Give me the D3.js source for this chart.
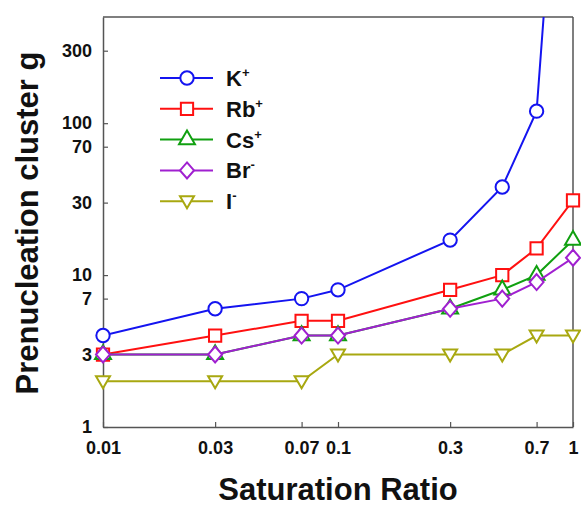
<!DOCTYPE html>
<html><head><meta charset="utf-8">
<script src="https://cdn.jsdelivr.net/npm/d3@7"></script>
<style>
body{margin:0;background:#fff;}
text{font-family:"Liberation Sans",Arial,sans-serif;font-weight:bold;fill:#111;}
</style></head>
<body><svg id="chart" width="581" height="507"></svg>
<script>
const ratios = [0.01, 0.03, 0.07, 0.1, 0.3, 0.5, 0.7, 1];
const kValues  = [4, 6, 7, 8, 17, 38, 120, 200000];
const rbValues = [3, 4, 5, 5, 8, 10, 15, 31];
const csValues = [3, 3, 4, 4, 6, 8, 10, 17];
const brValues = [3, 3, 4, 4, 6, 7, 9, 13];
const iValues  = [2, 2, 2, 3, 3, 3, 4, 4];
const seriesNames = ["K", "Rb", "Cs", "Br", "I"];
const seriesSup = ["+", "+", "+", "-", "-"];
const seriesColors = ["#1414f0", "#ff1010", "#10a010", "#a020d0", "#a8a810"];
const seriesSymbols = ["circle", "square", "triangle", "diamond", "triangleDown"];
const xTicks = [0.01, 0.03, 0.07, 0.1, 0.3, 0.7, 1];
const yTicks = [1, 3, 7, 10, 30, 70, 100, 300];
const allValues = [kValues, rbValues, csValues, brValues, iValues];

const svg = d3.select("#chart");
const m = {l:103, r:8, t:17, b:80};
const W = 581, H = 507;
const x = d3.scaleLog().domain([0.01, 1]).range([m.l, W - m.r]);
const y = d3.scaleLog().domain([1, 500]).range([H - m.b, m.t]);

svg.append("defs").append("clipPath").attr("id","clip")
  .append("rect").attr("x", m.l).attr("y", m.t).attr("width", W-m.r-m.l).attr("height", H-m.b-m.t);

// axes
const axColor = "#555";
const xAxis = svg.append("g").attr("transform", `translate(0,${H-m.b})`)
  .call(d3.axisBottom(x).tickValues(xTicks).tickFormat(d3.format("")).tickSizeInner(-5).tickSizeOuter(0).tickPadding(14));
const yAxis = svg.append("g").attr("transform", `translate(${m.l},0)`)
  .call(d3.axisLeft(y).tickValues(yTicks).tickFormat(d3.format("")).tickSizeInner(-5).tickSizeOuter(0).tickPadding(11));
[xAxis, yAxis].forEach(a => {
  a.select(".domain").attr("stroke", axColor).attr("stroke-width", 1.5);
  a.selectAll(".tick line").attr("stroke", axColor).attr("stroke-width", 1.2);
  a.selectAll(".tick text").style("font-size", "18px").style("font-weight","bold").attr("fill","#111")
    .style("font-family", '"Liberation Sans",Arial,sans-serif');
});
// top & right frame
svg.append("line").attr("x1", m.l).attr("x2", W-m.r).attr("y1", m.t).attr("y2", m.t).attr("stroke", axColor).attr("stroke-width", 1.5);
svg.append("line").attr("x1", W-m.r).attr("x2", W-m.r).attr("y1", m.t).attr("y2", H-m.b).attr("stroke", axColor).attr("stroke-width", 1.5);

function symbolPath(kind) {
  switch(kind) {
    case "circle": return d3.symbol(d3.symbolCircle, 140)();
    case "square": return d3.symbol(d3.symbolSquare, 150)();
    case "triangle": return d3.symbol(d3.symbolTriangle, 110)();
    case "diamond": return "M0,-8L7,0L0,8L-7,0Z";
    case "triangleDown": return "M-7,-5L7,-5L0,7Z";
  }
}

const line = d3.line().x(d => x(d[0])).y(d => y(d[1]));
const yMax = y.domain()[1];
allValues.forEach((vals, i) => {
  const pts = ratios.map((r, j) => [r, vals[j]]);
  const g = svg.append("g");
  g.append("path").datum(pts).attr("d", line).attr("fill","none")
    .attr("clip-path", "url(#clip)")
    .attr("stroke", seriesColors[i]).attr("stroke-width", 2);
  g.selectAll("path.m").data(pts.filter(d => d[1] <= yMax)).join("path").attr("class","m")
    .attr("transform", d => `translate(${x(d[0])},${y(d[1])})`)
    .attr("d", symbolPath(seriesSymbols[i]))
    .attr("fill", "#fff").attr("stroke", seriesColors[i]).attr("stroke-width", 2);
});

// legend
const leg = svg.append("g");
seriesNames.forEach((n, i) => {
  const ly = 78 + i * 30.8;
  leg.append("line").attr("x1", 160).attr("x2", 213).attr("y1", ly).attr("y2", ly)
    .attr("stroke", seriesColors[i]).attr("stroke-width", 2);
  leg.append("path").attr("transform", `translate(187,${ly})`).attr("d", symbolPath(seriesSymbols[i]))
    .attr("fill", "#fff").attr("stroke", seriesColors[i]).attr("stroke-width", 2);
  const t = leg.append("text").attr("x", 226).attr("y", ly + 8).style("font-size", "22px");
  t.append("tspan").text(n);
  t.append("tspan").attr("dy", -9).style("font-size", "13px").text(seriesSup[i]);
});

// axis titles
svg.append("text").attr("x", (m.l + W - m.r)/2).attr("y", 500).attr("text-anchor","middle")
  .style("font-size","31px").text("Saturation Ratio");
svg.append("text").attr("transform", "translate(38,223) rotate(-90)").attr("text-anchor","middle")
  .style("font-size","31px").text("Prenucleation cluster g");
</script></body></html>
